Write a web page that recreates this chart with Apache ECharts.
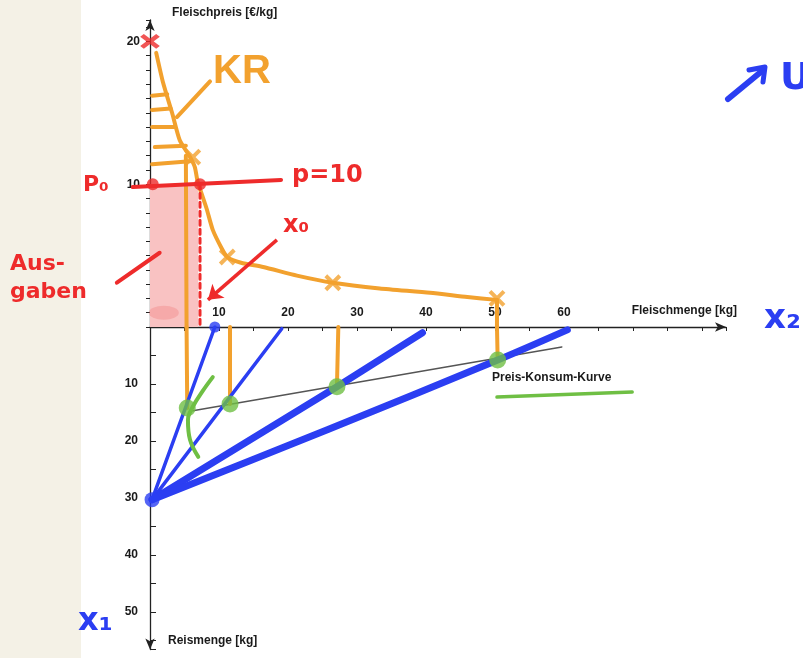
<!DOCTYPE html>
<html>
<head>
<meta charset="utf-8">
<script src="https://cdn.jsdelivr.net/npm/echarts@6/dist/echarts.min.js"></script>
<style>
  html, body { margin: 0; padding: 0; background: #fff; }
  #chart { width: 803px; height: 658px; }
</style>
</head>
<body>
<div id="chart"></div>
<script>
// axis ranges
const meatMax = 83.5;    // Fleischmenge [kg]
const priceMax = 21.5;   // Fleischpreis [€/kg]
const riceMax = 56.6;    // Reismenge [kg]
const meatLabels = [10, 20, 30, 40, 50, 60];
const priceLabels = [10, 20];
const riceLabels = [10, 20, 30, 40, 50];

// lower panel: budget lines from 30 kg rice
const budget10 = [[0.3, 30.3], [9.4, 0]];
const budget20 = [[0.3, 30.3], [19.1, 0.3]];
const budget40 = [[0.3, 30.3], [27.1, 10.5], [39.5, 1.0]];
const budget60 = [[0.3, 30.3], [25.8, 18.0], [50.4, 5.8], [60.5, 0.5]];
const budgetDots = [[0.3, 30.3], [9.4, 0]];
const pkkLine = [[6.2, 14.7], [59.7, 3.5]];
const pkkDots = [[5.4, 14.2], [11.6, 13.5], [27.1, 10.5], [50.4, 5.8]];
const greenStroke = [[9.1, 8.8], [7.6, 11.3], [6.2, 14.0], [5.5, 16.3], [5.8, 19.8], [7.0, 22.8]];
const pkkUnderline = [[50.3, 12.3], [69.9, 11.4]];
const orangeDrops = [[5.3, 0], [5.4, 14.2], ['-', '-'], [11.6, 0], [11.6, 13.5], ['-', '-'],
  [27.3, 0], [27.1, 10.5], ['-', '-'], [50.3, 0], [50.4, 5.8]];

// upper panel: hand-drawn demand curve (KR)
const krCurve = [[0.9, 19.2], [1.9, 17.1], [3.2, 15.0], [4.3, 13.1], [5.8, 11.9], [6.5, 11.2],
  [6.9, 10.2], [8.2, 8.3], [9.1, 6.8], [10.4, 5.5], [11.2, 4.9], [13.2, 4.5], [16.4, 4.2],
  [21.3, 3.6], [26.5, 3.1], [33.3, 2.7], [40.6, 2.4], [46.0, 2.1], [50.3, 1.9]];
const krHatch = [[0.3, 16.2], [2.5, 16.3], ['-', '-'], [0.3, 15.2], [3.0, 15.3], ['-', '-'],
  [0.3, 14.0], [3.5, 14.0], ['-', '-'], [0.7, 12.6], [5.2, 12.7], ['-', '-'], [0.3, 11.4], [5.8, 11.6]];
const krPointer = [[3.9, 14.7], [8.7, 17.2]];
const krMarks = [[6.2, 11.9], [11.2, 4.9], [26.5, 3.1], [50.3, 2.0]];
const upperDrops = [[5.2, 12.0], [5.3, 0], ['-', '-'], [50.3, 1.9], [50.3, 0]];
const priceLine = [[-2.5, 9.8], [19.0, 10.3]];
const x0Drop = [[7.25, 10], [7.25, 0]];
const redDots = [[7.25, 10.0], [0.4, 10.0]];
const redCross = [[0, 20]];
const x0 = 7.0, p0 = 10;
const x0Arrow = [[18.4, 6.1], [8.4, 1.9]];
const ausgabenPointer = [[-4.8, 3.1], [1.4, 5.2]];

const blue = '#2b3ef2', orange = '#f2a12e', red = '#ee2b2b', green = '#6fbf44';
const axisCol = '#222';
const font = 'Liberation Sans';

const chart = echarts.init(document.getElementById('chart'));

const labelStyle = { color: '#1a1a1a', fontWeight: 'bold', fontSize: 12, fontFamily: font };

function line(name, data, color, width, extra) {
  return Object.assign({
    name, type: 'line', data, showSymbol: false, symbol: 'none',
    lineStyle: { color, width, cap: 'round', join: 'round' },
    connectNulls: false, silent: true, animation: false
  }, extra);
}

const option = {
  backgroundColor: '#fff',
  animation: false,
  grid: [
    { left: 150, right: 77, top: 20, bottom: 331 },
    { left: 150, right: 77, top: 327, bottom: 8.5 }
  ],
  xAxis: [
    {
      gridIndex: 0, type: 'value', min: 0, max: meatMax, interval: 5,
      axisLine: { onZero: false, symbol: ['none', 'arrow'], symbolSize: [7, 11],
        lineStyle: { color: axisCol, width: 1.3 } },
      axisTick: { length: 4, lineStyle: { color: axisCol } },
      axisLabel: Object.assign({ inside: true, margin: 8,
        formatter: v => meatLabels.includes(v) ? String(v) : '' }, labelStyle),
      splitLine: { show: false },
      name: 'Fleischmenge [kg]', nameLocation: 'end', nameGap: 11,
      nameTextStyle: Object.assign({ align: 'right', verticalAlign: 'bottom', padding: [0, 0, 10, 0] }, labelStyle)
    },
    { gridIndex: 1, type: 'value', min: 0, max: meatMax, show: false }
  ],
  yAxis: [
    {
      gridIndex: 0, type: 'value', min: 0, max: priceMax, interval: 1,
      axisLine: { onZero: false, symbol: ['none', 'arrow'], symbolSize: [7, 11],
        lineStyle: { color: axisCol, width: 1.3 } },
      axisTick: { length: 4, lineStyle: { color: axisCol } },
      axisLabel: Object.assign({ margin: 10,
        formatter: v => priceLabels.includes(v) ? String(v) : '' }, labelStyle),
      splitLine: { show: false },
      name: 'Fleischpreis [€/kg]', nameLocation: 'end', nameGap: 7,
      nameTextStyle: Object.assign({ align: 'left', verticalAlign: 'middle', padding: [0, 0, 0, 22] }, labelStyle)
    },
    {
      gridIndex: 1, type: 'value', inverse: true, min: 0, max: riceMax, interval: 5,
      axisLine: { onZero: false, symbol: ['arrow', 'none'], symbolSize: [7, 11],
        lineStyle: { color: axisCol, width: 1.3 } },
      axisTick: { inside: true, length: 6, lineStyle: { color: axisCol } },
      axisLabel: Object.assign({ margin: 12,
        formatter: v => riceLabels.includes(v) ? String(v) : '' }, labelStyle),
      splitLine: { show: false },
      name: 'Reismenge [kg]', nameLocation: 'end', nameGap: -9,
      nameTextStyle: Object.assign({ align: 'left', verticalAlign: 'middle', padding: [0, 0, 0, 18] }, labelStyle)
    }
  ],
  series: [
    // ---- upper panel
    line('Ausgaben', [], red, 0, {
      xAxisIndex: 0, yAxisIndex: 0, z: 1,
      markArea: { silent: true, itemStyle: { color: '#f9c2c2' },
        data: [[{ coord: [0, 0] }, { coord: [x0, p0] }]] }
    }),
    { type: 'scatter', xAxisIndex: 0, yAxisIndex: 0, data: [[2.0, 1.0]], symbol: 'circle',
      symbolSize: [30, 14], itemStyle: { color: 'rgba(240,125,125,0.45)' }, silent: true, z: 1 },
    line('drops upper', upperDrops, orange, 4, { xAxisIndex: 0, yAxisIndex: 0, z: 2 }),
    line('KR hatch', krHatch, orange, 4, { xAxisIndex: 0, yAxisIndex: 0, z: 3 }),
    line('KR', krCurve, orange, 4, { xAxisIndex: 0, yAxisIndex: 0, z: 3, smooth: 0.2 }),
    line('KR pointer', krPointer, orange, 4, { xAxisIndex: 0, yAxisIndex: 0, z: 3 }),
    { type: 'scatter', xAxisIndex: 0, yAxisIndex: 0, data: krMarks, silent: true, z: 4,
      symbol: 'path://M0,0L10,10M10,0L0,10', symbolSize: 14,
      itemStyle: { color: 'none', borderColor: orange, borderWidth: 4 } },
    line('x0 drop', x0Drop, red, 3, { xAxisIndex: 0, yAxisIndex: 0, z: 4,
      lineStyle: { color: red, width: 3, type: [5, 4], cap: 'round' } }),
    { type: 'scatter', xAxisIndex: 0, yAxisIndex: 0, data: redDots, symbol: 'circle', symbolSize: 12,
      itemStyle: { color: red }, silent: true, z: 6 },
    { type: 'scatter', xAxisIndex: 0, yAxisIndex: 0, data: redCross, silent: true, z: 6, clip: false,
      symbol: 'path://M0,0L10,10M10,0L0,10', symbolSize: [16, 12],
      itemStyle: { color: 'none', borderColor: red, borderWidth: 4.5 } },
    line('x0 arrow', [], red, 0, { xAxisIndex: 0, yAxisIndex: 0, z: 6,
      markLine: { silent: true, symbol: ['none', 'arrow'], symbolSize: 14, label: { show: false },
        lineStyle: { color: red, width: 3.5, type: 'solid' },
        data: [[{ coord: x0Arrow[0] }, { coord: x0Arrow[1] }]] } }),

    // ---- lower panel
    line('Preis-Konsum-Kurve', pkkLine, '#555', 1.5, { xAxisIndex: 1, yAxisIndex: 1, z: 2 }),
    line('drops lower', orangeDrops, orange, 4, { xAxisIndex: 1, yAxisIndex: 1, z: 3 }),
    line('budget 10', budget10, blue, 3.5, { xAxisIndex: 1, yAxisIndex: 1, z: 4 }),
    line('budget 20', budget20, blue, 3.5, { xAxisIndex: 1, yAxisIndex: 1, z: 4 }),
    line('budget 40', budget40, blue, 7, { xAxisIndex: 1, yAxisIndex: 1, z: 4 }),
    line('budget 60', budget60, blue, 7, { xAxisIndex: 1, yAxisIndex: 1, z: 4, smooth: 0.3 }),
    { type: 'scatter', xAxisIndex: 1, yAxisIndex: 1, data: budgetDots, symbol: 'circle',
      symbolSize: (v, p) => p.dataIndex === 0 ? 15 : 11, itemStyle: { color: blue }, silent: true, z: 5, clip: false },
    line('green stroke', greenStroke, green, 4, { xAxisIndex: 1, yAxisIndex: 1, z: 5, smooth: 0.4 }),
    line('pkk underline', pkkUnderline, green, 3.5, { xAxisIndex: 1, yAxisIndex: 1, z: 5 }),
    { type: 'scatter', xAxisIndex: 1, yAxisIndex: 1, data: pkkDots, symbol: 'circle', symbolSize: 17,
      itemStyle: { color: green }, silent: true, z: 6 }
  ],
  graphic: [
    { type: 'rect', z: -10, shape: { x: 0, y: 0, width: 81, height: 658 }, style: { fill: '#f4f1e6' } },
    { type: 'text', left: 492, top: 372, style: { text: 'Preis-Konsum-Kurve', fill: '#1a1a1a',
      font: 'bold 12px "Liberation Sans"' } },
    { type: 'text', left: 213, top: 52, style: { text: 'KR', fill: orange, font: 'bold 40px "Liberation Sans"' } },
    { type: 'text', left: 83, top: 174, style: { text: 'P₀', fill: red, font: 'bold 22px "DejaVu Sans"' } },
    { type: 'text', left: 292, top: 164, style: { text: 'p=10', fill: red, font: 'bold 24px "DejaVu Sans"' } },
    { type: 'text', left: 283, top: 214, style: { text: 'x₀', fill: red, font: 'bold 24px "DejaVu Sans"' } },
    { type: 'text', left: 10, top: 250, style: { text: 'Aus-\ngaben', fill: red, lineHeight: 28,
      font: 'bold 22px "DejaVu Sans"' } },
    { type: 'text', left: 764, top: 302, style: { text: 'x₂', fill: blue, font: 'bold 34px "DejaVu Sans"' } },
    { type: 'text', left: 78, top: 606, style: { text: 'x₁', fill: blue, font: 'bold 32px "DejaVu Sans"' } },
    { type: 'line', shape: { x1: 728, y1: 99, x2: 762, y2: 71 },
      style: { stroke: blue, lineWidth: 6, lineCap: 'round' } },
    { type: 'polyline', shape: { points: [[749, 70], [765, 67], [763, 82]] },
      style: { stroke: blue, lineWidth: 5, lineCap: 'round', lineJoin: 'round', fill: null } },
    { type: 'text', left: 780, top: 60, style: { text: 'U', fill: blue, font: 'bold 38px "DejaVu Sans"' } }
  ]
};

chart.setOption(option);

// red strokes that reach left of the price axis: placed through the axes' own scale
const toPx = p => chart.convertToPixel({ xAxisIndex: 0, yAxisIndex: 0 }, p);
[priceLine, ausgabenPointer].forEach(pts => {
  option.graphic.push({ type: 'polyline', z: 10, shape: { points: pts.map(toPx) },
    style: { stroke: red, lineWidth: 4, lineCap: 'round', fill: null } });
});
chart.setOption({ graphic: option.graphic });
</script>
</body>
</html>
